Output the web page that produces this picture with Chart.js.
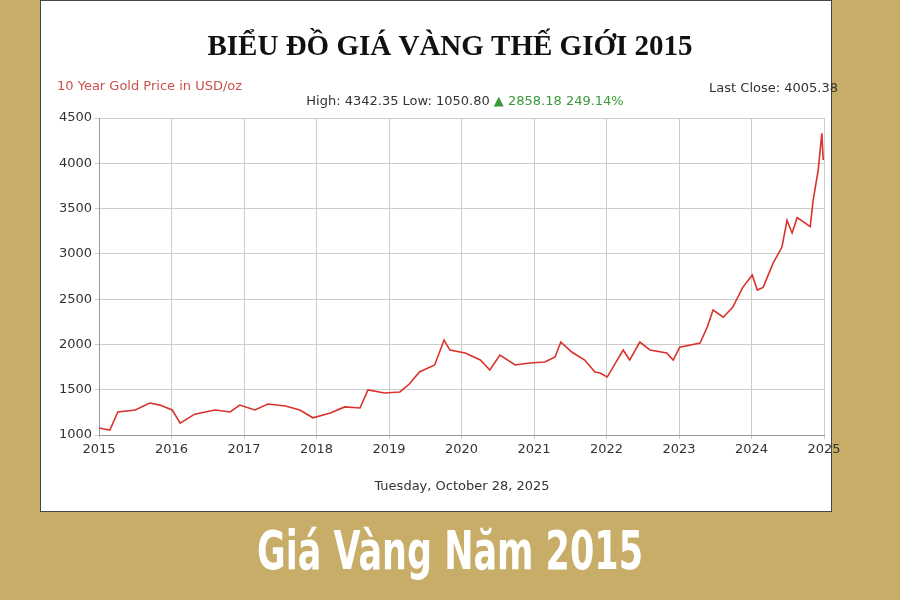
<!DOCTYPE html>
<html><head><meta charset="utf-8">
<script src="https://cdn.jsdelivr.net/npm/chart.js@4/dist/chart.umd.min.js"></script>
<style>html,body{margin:0;padding:0;background:#C8AD68;}#w{width:900px;height:600px;position:relative}</style>
</head><body><div id="w"><canvas id="c" width="900" height="600"></canvas></div>
<script>
const years = [2015.00,2015.15,2015.26,2015.50,2015.70,2015.84,2016.01,2016.12,2016.32,2016.60,2016.81,2016.94,2017.15,2017.33,2017.57,2017.77,2017.95,2018.19,2018.39,2018.60,2018.71,2018.94,2019.15,2019.28,2019.42,2019.63,2019.76,2019.84,2020.05,2020.26,2020.39,2020.53,2020.74,2020.94,2021.15,2021.29,2021.37,2021.52,2021.70,2021.84,2021.91,2022.01,2022.23,2022.32,2022.46,2022.60,2022.83,2022.92,2023.01,2023.29,2023.39,2023.47,2023.61,2023.74,2023.88,2024.01,2024.08,2024.16,2024.30,2024.42,2024.49,2024.56,2024.63,2024.81,2024.85,2024.92,2024.97,2024.99];
const prices = [1077,1055,1254,1276,1353,1330,1276,1130,1230,1276,1254,1330,1276,1342,1320,1276,1190,1243,1310,1298,1497,1464,1475,1563,1696,1773,2049,1938,1905,1828,1718,1883,1773,1795,1806,1861,2026,1916,1828,1696,1684,1640,1938,1828,2026,1938,1905,1828,1970,2015,2192,2380,2300,2410,2630,2766,2600,2630,2900,3075,3370,3230,3400,3300,3590,3925,4330,4035];
const yTicks = [1000,1500,2000,2500,3000,3500,4000,4500];
const xTicks = [2015,2016,2017,2018,2019,2020,2021,2022,2023,2024,2025];

const deco = {
  id:'deco',
  beforeDraw(ch){
    const c=ch.ctx; c.save();
    c.fillStyle='#C8AD68'; c.fillRect(0,0,900,600);
    c.fillStyle='#fff'; c.fillRect(40,0,792,512);
    c.strokeStyle='#444'; c.lineWidth=1; c.strokeRect(40.5,0.5,791,511);
    c.restore();
  },
  afterDraw(ch){
    const c=ch.ctx; c.save();
    c.textBaseline='middle';
    c.fillStyle='#111'; c.textAlign='center';
    c.font='bold 29px "Liberation Serif"';
    c.fillText('BIỂU ĐỒ GIÁ VÀNG THẾ GIỚI 2015',450,48);
    c.font='13px "DejaVu Sans"';
    c.textAlign='left'; c.fillStyle='#c8524a';
    c.fillText('10 Year Gold Price in USD/oz',57,87);
    c.textAlign='right'; c.fillStyle='#333';
    c.fillText('Last Close: 4005.38',838,89);
    c.textAlign='left';
    const a='High: 4342.35 Low: 1050.80 ', b='▲ 2858.18 249.14%';
    const wa=c.measureText(a).width, wb=c.measureText(b).width;
    let x=465-(wa+wb)/2;
    c.fillStyle='#333'; c.fillText(a,x,102);
    c.fillStyle='#3a9a3a'; c.fillText(b,x+wa,102);
    c.textAlign='center'; c.fillStyle='#333';
    c.fillText('Tuesday, October 28, 2025',462,487);
    c.fillStyle='#fff';
    c.translate(450,555); c.scale(0.72,1);
    c.font='bold 54px "DejaVu Sans Condensed", "DejaVu Sans"';
    c.fillText('Giá Vàng Năm 2015',0,0);
    c.restore();
  }
};

new Chart(document.getElementById('c'),{
  type:'line',
  data:{datasets:[{data:years.map((y,i)=>({x:y,y:prices[i]})),borderColor:'#d9322b',borderWidth:1.6,pointRadius:0,tension:0}]},
  options:{
    responsive:false,animation:false,
    layout:{padding:{left:40,right:76,top:118,bottom:135}},
    plugins:{legend:{display:false},tooltip:{enabled:false}},
    scales:{
      x:{type:'linear',min:2015,max:2025,
        afterBuildTicks(s){s.ticks=xTicks.map(v=>({value:v}));},
        afterFit(s){s.height=30;},
        grid:{color:'#ccc',drawTicks:true,tickLength:4},border:{color:'#999'},
        ticks:{color:'#333',font:{family:'DejaVu Sans',size:13},maxRotation:0,callback:v=>String(v)}},
      y:{min:1000,max:4500,
        afterBuildTicks(s){s.ticks=yTicks.map(v=>({value:v}));},
        afterFit(s){s.width=59;},
        grid:{color:'#ccc',tickLength:4},border:{color:'#999'},
        ticks:{color:'#333',font:{family:'DejaVu Sans',size:13},padding:3,callback:v=>String(v)}}
    }
  },
  plugins:[deco]
});
</script></body></html>
